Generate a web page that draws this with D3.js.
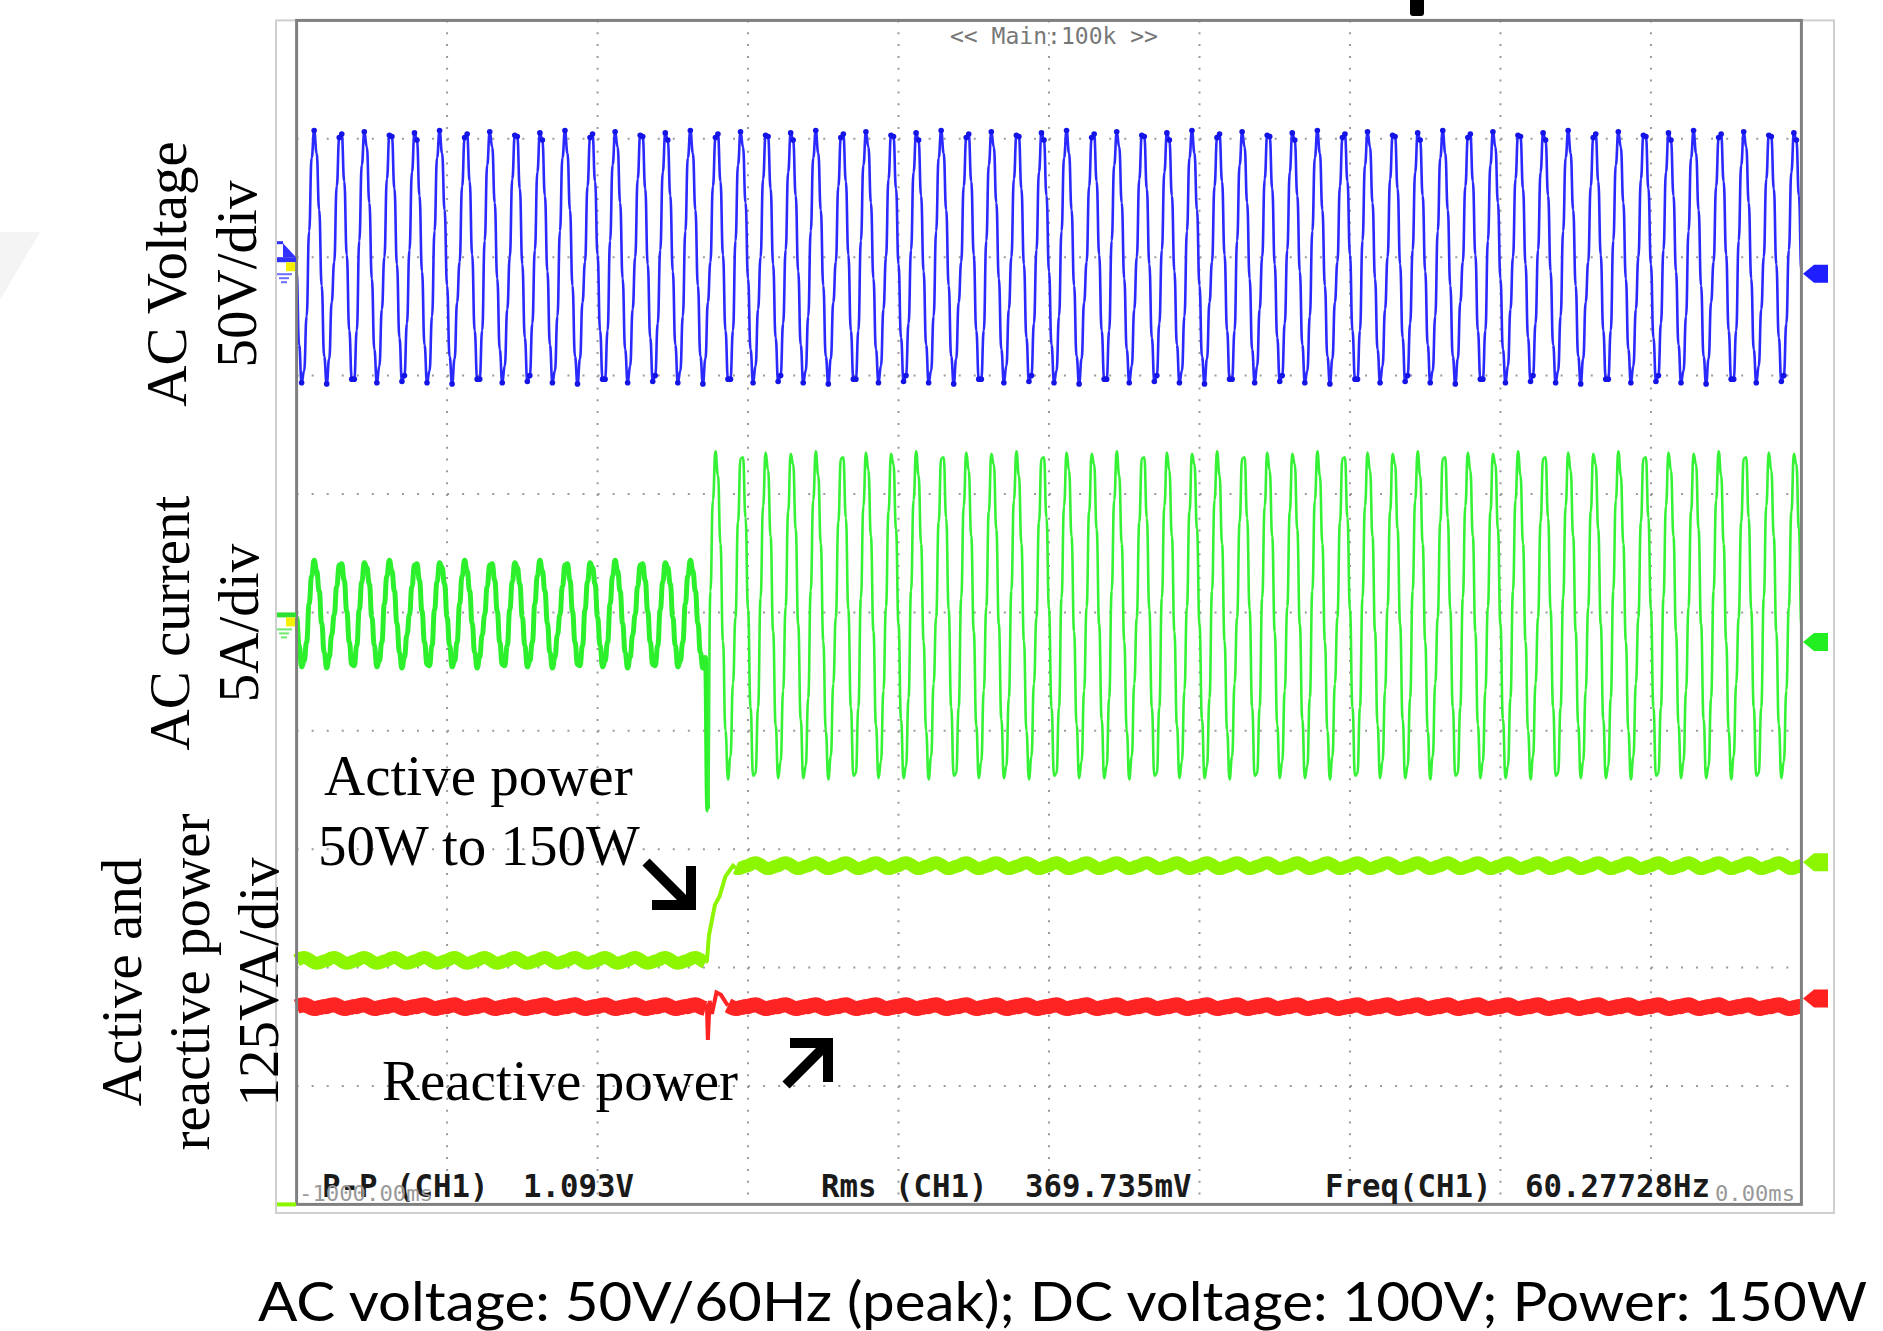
<!DOCTYPE html>
<html>
<head>
<meta charset="utf-8">
<title>Active power step 50W to 150W</title>
<script src="https://d3js.org/d3.v7.min.js"></script>
<style>
  body { margin: 0; background: #fff; }
  svg { display: block; }
  .serif { font-family: "Liberation Serif", "Times New Roman", serif; fill: #000; }
  .scope { font-family: "DejaVu Sans Mono", monospace; }
</style>
</head>
<body>
<svg id="chart" width="1883" height="1331"></svg>
<script>
// ---------- values (levels in divisions) ----------
const timeDivs = 10;          // 100 ms/div, -1000 ms .. 0 ms
const samplesPerCycle = 10;   // record points in one 60 Hz cycle
const cyclesOnScreen = 60;
const startPhase = 5;         // sample of the cycle at the left edge

// CH1 AC voltage, 50 V/div, trace centred 3 div above screen centre
const voltOffset = 3.0;
const voltCycles = [
  [0.06, 0.72, 1.05, 0.99, 0.52, -0.12, -0.74, -1.06, -0.96, -0.50],
  [0.22, 0.84, 1.07, 0.88, 0.40, -0.24, -0.84, -1.07, -0.86, -0.38],
  [-0.04, 0.60, 1.01, 1.04, 0.64, 0.02, -0.62, -1.03, -1.03, -0.62],
  [0.14, 0.78, 1.06, 0.93, 0.46, -0.18, -0.78, -1.06, -0.92, -0.44],
  [0.00, 0.66, 1.03, 1.02, 0.58, -0.06, -0.68, -1.05, -1.00, -0.56]
];

// AC current, 5 A/div, centred on screen; load step at sample 164
const curOffset = 0.0;
const stepSample = 164;
const curSpike = -1.67;
const curBefore = [
  [0.02, 0.26, 0.42, 0.38, 0.24, -0.04, -0.28, -0.46, -0.41, -0.25],
  [0.07, 0.31, 0.44, 0.35, 0.18, -0.09, -0.34, -0.47, -0.38, -0.19],
  [-0.02, 0.22, 0.40, 0.41, 0.27, 0.01, -0.25, -0.44, -0.45, -0.28]
];
const curAfter = [
  [0.05, 0.85, 1.34, 1.25, 0.70, -0.10, -0.90, -1.40, -1.30, -0.72],
  [0.18, 0.95, 1.36, 1.16, 0.58, -0.24, -1.00, -1.41, -1.22, -0.60],
  [-0.04, 0.76, 1.30, 1.31, 0.80, 0.02, -0.80, -1.38, -1.36, -0.80],
  [0.12, 0.90, 1.35, 1.20, 0.64, -0.16, -0.95, -1.40, -1.26, -0.66]
];

// active / reactive power, 125 VA/div, zero line 3.33 div below centre
const powerZero = -3.33;
const activeBefore = 0.39;    // 50 W
const activeAfter = 1.19;     // 150 W
const activeStep = [[2.727, 0.39], [2.74, 0.60], [2.78, 0.86], [2.81, 0.93], [2.85, 1.10], [2.90, 1.19]];
const reactiveLevel = 0.0;
const reactiveStep = [[2.727, 0.0], [2.733, -0.28], [2.745, 0.05], [2.76, -0.06], [2.79, 0.12], [2.82, 0.10], [2.86, 0.02]];
const activeRipple = [0.00, 0.012, 0.022, 0.026, 0.02, 0.008, -0.006, -0.018, -0.024, -0.02, -0.012, -0.004];
const reactiveRipple = [0.00, 0.008, 0.014, 0.016, 0.01, 0.0, -0.01, -0.016, -0.014, -0.008, -0.004, 0.002];

// channel reference markers at the right edge
const markerLevels = [2.86, -0.25, -2.11, -3.26];
const markerColors = ["#1e1eff", "#22ee22", "#8cf500", "#ff2020"];

// texts
const measureLabels = ["P-P (CH1)", "Rms (CH1)", "Freq(CH1)"];
const measureValues = ["1.093V", "369.735mV", "60.27728Hz"];
const timeLabels = ["-1000.00ms", "0.00ms"];
const caption = "AC voltage: 50V/60Hz (peak); DC voltage: 100V; Power: 150W";

// ---------- layout ----------
const svg = d3.select("#chart");
const L = 296.6, R = 1801.4, T = 20.4, B = 1204.4;
const x = d3.scaleLinear().domain([0, timeDivs]).range([L, R]);
const y = d3.scaleLinear().domain([-5, 5]).range([B, T]);

const nSamples = cyclesOnScreen * samplesPerCycle + 1;
const tOf = k => k * timeDivs / (nSamples - 1);
const pick = (cycles, k) => {
  const p = k + startPhase;
  return cycles[Math.floor(p / samplesPerCycle) % cycles.length][p % samplesPerCycle];
};

// faint shape at the left margin and the black tab at the top
svg.append("polygon").attr("points", "0,232 40,232 0,300").attr("fill", "#f4f4f4");
svg.append("rect").attr("x", 1410).attr("y", -6).attr("width", 14).attr("height", 22)
   .attr("rx", 3).attr("fill", "#000");

// outer screen frame
svg.append("rect").attr("x", 276).attr("y", T).attr("width", 1834 - 276).attr("height", 1213 - T)
   .attr("fill", "#fff").attr("stroke", "#cfcfcf").attr("stroke-width", 2);

// dotted grid
const grid = svg.append("g").attr("stroke", "#9a9a9a").attr("stroke-width", 2);
const dv = (B - T) / 10, dh = (R - L) / 10;
grid.selectAll("line.v").data(d3.range(1, 10)).join("line").attr("class", "v")
    .attr("x1", d => x(d)).attr("x2", d => x(d)).attr("y1", T).attr("y2", B)
    .attr("stroke-dasharray", `2,${dv / 10 - 2}`);
grid.selectAll("line.h").data(d3.range(-4, 5)).join("line").attr("class", "h")
    .attr("y1", d => y(d)).attr("y2", d => y(d)).attr("x1", L).attr("x2", R)
    .attr("stroke-dasharray", `2,${dh / 10 - 2}`);

// ---------- traces ----------
const plot = svg.append("g");
const line = d3.line().x(d => x(d[0])).y(d => y(d[1]));
const bump = d3.line().x(d => x(d[0])).y(d => y(d[1])).curve(d3.curveBumpX);
const smooth = d3.line().x(d => x(d[0])).y(d => y(d[1])).curve(d3.curveMonotoneX);

// voltage
const volt = d3.range(nSamples).map(k => [tOf(k), voltOffset + pick(voltCycles, k)]);
plot.append("path").datum(volt).attr("d", bump)
    .attr("fill", "none").attr("stroke", "#2a2aff").attr("stroke-width", 2.6)
    .attr("stroke-linejoin", "round");
plot.append("g").selectAll("circle").data(volt.filter(d => Math.abs(d[1] - voltOffset) > 0.98))
    .join("circle").attr("cx", d => x(d[0])).attr("cy", d => y(d[1])).attr("r", 2.8)
    .attr("fill", "#1414e6");

// current
const curPre = d3.range(0, stepSample).map(k => [tOf(k), curOffset + pick(curBefore, k)]);
curPre.push([tOf(stepSample), curOffset + curSpike]);
const curPost = [[tOf(stepSample), curOffset + curSpike]]
  .concat(d3.range(stepSample + 1, nSamples).map(k => [tOf(k), curOffset + pick(curAfter, k)]));
plot.append("path").datum(curPre).attr("d", bump)
    .attr("fill", "none").attr("stroke", "#2cf02c").attr("stroke-width", 5)
    .attr("stroke-linejoin", "round");
plot.append("path").datum(curPost).attr("d", bump)
    .attr("fill", "none").attr("stroke", "#36f236").attr("stroke-width", 2.6)
    .attr("stroke-linejoin", "round");

// power traces
function powerTrace(before, after, stepPts, ripple, color, width) {
  const t0 = stepPts[0][0], t1 = stepPts[stepPts.length - 1][0];
  const pre = d3.range(nSamples).filter(k => tOf(k) < t0)
    .map(k => [tOf(k), powerZero + before + ripple[k % ripple.length]]);
  const post = d3.range(nSamples).filter(k => tOf(k) > t1)
    .map(k => [tOf(k), powerZero + after + ripple[k % ripple.length]]);
  const mid = stepPts.map(d => [d[0], powerZero + d[1]]);
  const g = plot.append("g").attr("fill", "none").attr("stroke", color);
  g.append("path").datum(pre).attr("d", smooth).attr("stroke-width", width);
  g.append("path").datum(post).attr("d", smooth).attr("stroke-width", width);
  g.append("path").datum([pre[pre.length - 1]].concat(mid, [post[0]])).attr("d", line)
   .attr("stroke-width", 4);
}
powerTrace(reactiveLevel, reactiveLevel, reactiveStep, reactiveRipple, "#ff2424", 15);
powerTrace(activeBefore, activeAfter, activeStep, activeRipple, "#8cf500", 13);

// inner plot border
svg.append("rect").attr("x", L).attr("y", T).attr("width", R - L).attr("height", B - T)
   .attr("fill", "none").attr("stroke", "#808080").attr("stroke-width", 3);

// right reference markers
svg.selectAll("polygon.mk").data(markerLevels).join("polygon").attr("class", "mk")
   .attr("points", d => { const v = y(d); return `1803,${v} 1814,${v - 9} 1828,${v - 9} 1828,${v + 9} 1814,${v + 9}`; })
   .attr("fill", (d, i) => markerColors[i]);

// left ground markers (CH1 voltage, CH2 current)
function groundMark(level, color, withTrig) {
  const v = y(level);
  const g = svg.append("g");
  if (withTrig) {
    g.append("rect").attr("x", 277).attr("y", v - 16).attr("width", 6).attr("height", 3).attr("fill", color);
    g.append("polygon").attr("points", `283,${v - 14} 296,${v} 283,${v}`).attr("fill", color);
  }
  g.append("rect").attr("x", 277).attr("y", v).attr("width", 19).attr("height", 5).attr("fill", color);
  g.append("rect").attr("x", 286).attr("y", v + 5).attr("width", 9).attr("height", 9).attr("fill", "#f4f000");
  [[277, 15, 16], [279, 10, 20], [281, 6, 24]].forEach(s =>
    g.append("rect").attr("x", s[0]).attr("y", v + s[2]).attr("width", s[1]).attr("height", 2).attr("fill", color).attr("opacity", 0.7));
}
groundMark(voltOffset, "#3030ff", true);
groundMark(curOffset, "#30e030", false);
svg.append("rect").attr("x", 277).attr("y", B - 2).attr("width", 19).attr("height", 4).attr("fill", "#8cf500");

// ---------- scope texts ----------
const pitch = 18.5;
const mStart = [[322, 523], [821, 1025], [1325, 1525]];
const mt = svg.append("g").attr("class", "scope").attr("fill", "#1a1a1a")
   .attr("font-size", 32).attr("font-weight", "bold");
measureLabels.forEach((s, i) => {
  mt.append("text").attr("x", mStart[i][0]).attr("y", 1197).text(s)
    .attr("textLength", s.length * pitch).attr("lengthAdjust", "spacingAndGlyphs");
  mt.append("text").attr("x", mStart[i][1]).attr("y", 1197).text(measureValues[i])
    .attr("textLength", measureValues[i].length * pitch).attr("lengthAdjust", "spacingAndGlyphs");
});
svg.append("text").attr("class", "scope").attr("x", 299).attr("y", 1201).attr("font-size", 21)
   .attr("fill", "#999").text(timeLabels[0]).attr("textLength", 134).attr("lengthAdjust", "spacingAndGlyphs");
svg.append("text").attr("class", "scope").attr("x", 1715).attr("y", 1201).attr("font-size", 21)
   .attr("fill", "#999").text(timeLabels[1]).attr("textLength", 80).attr("lengthAdjust", "spacingAndGlyphs");
svg.append("text").attr("class", "scope").attr("x", 950).attr("y", 44).attr("font-size", 23)
   .attr("fill", "#777").text("<< Main:100k >>").attr("textLength", 208).attr("lengthAdjust", "spacingAndGlyphs");

// ---------- axis labels (rotated) ----------
function sideLabel(lines, baselines, cy) {
  lines.forEach((s, i) => {
    svg.append("text").attr("class", "serif").attr("font-size", 57).attr("text-anchor", "middle")
       .attr("transform", `translate(${baselines[i]},${cy}) rotate(-90)`).text(s);
  });
}
sideLabel(["AC Voltage", "50V/div"], [186, 256], 274);
sideLabel(["AC current", "5A/div"], [189, 258], 623);
sideLabel(["Active and", "reactive power", "125VA/div"], [141, 209, 278], 982);

// ---------- annotations ----------
const ann = svg.append("g").attr("class", "serif").attr("font-size", 57);
ann.append("text").attr("x", 324).attr("y", 795).text("Active power");
ann.append("text").attr("x", 318).attr("y", 865).text("50W to 150W");
ann.append("text").attr("x", 382).attr("y", 1100).text("Reactive power");

const arrows = svg.append("g").attr("fill", "none").attr("stroke", "#000").attr("stroke-width", 10)
   .attr("stroke-linecap", "butt").attr("stroke-linejoin", "miter");
arrows.append("path").attr("d", "M646,862 L690,906 M652,905 L691,905 L691,866");
arrows.append("path").attr("d", "M786,1085 L827,1044 M790,1043 L828,1043 L828,1082");

// caption
svg.append("text").attr("x", 258).attr("y", 1321).attr("font-family", "Lato, 'Open Sans', sans-serif")
   .attr("font-size", 55).attr("fill", "#000").text(caption)
   .attr("textLength", 1609).attr("lengthAdjust", "spacingAndGlyphs");
</script>
</body>
</html>
